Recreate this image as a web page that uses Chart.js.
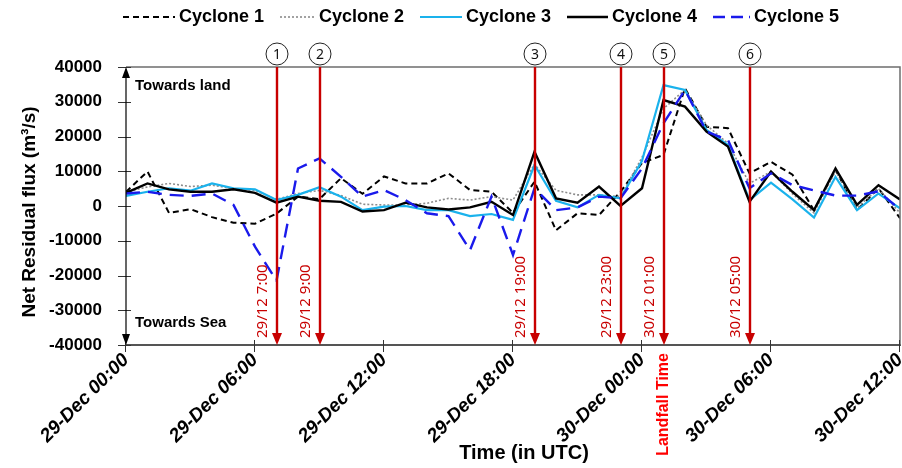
<!DOCTYPE html>
<html>
<head>
<meta charset="utf-8">
<script src="https://cdn.jsdelivr.net/npm/chart.js@4/dist/chart.umd.min.js"></script>
<style>
  html, body { margin: 0; padding: 0; background: #fff; }
  #wrap { width: 902px; height: 468px; }
</style>
</head>
<body>
<div id="wrap"><canvas id="cv" width="902" height="468"></canvas></div>
<script>
// hourly samples, 29-Dec 00:00 to 30-Dec 12:00 (UTC)
const hours = [0, 1, 2, 3, 4, 5, 6, 7, 8, 9, 10, 11, 12, 13, 14, 15, 16, 17, 18,
  19, 20, 21, 22, 23, 24, 25, 26, 27, 28, 29, 30, 31, 32, 33, 34, 35, 36];
const tickLabels = ['29-Dec 00:00', '29-Dec 06:00', '29-Dec 12:00', '29-Dec 18:00',
  '30-Dec 00:00', '30-Dec 06:00', '30-Dec 12:00'];

const cyclone1 = [4100, 9900, -2000, -900, -3200, -4800, -5100, -2200, 2700, 2000, 8000, 3500,
  8500, 6500, 6500, 9400, 4600, 4100, -2000, 7000, -7000, -2100, -2600, 4100,
  12400, 14700, 33900, 22800, 22400, 9400, 12700, 9000, -1200, 10400, -1200, 5100, -3500];
const cyclone2 = [4000, 5500, 6500, 5600, 6000, 5000, 4500, 1900, 3600, 4500, 3000, 500,
  300, 300, 800, 2200, 1700, 2700, 1700, 12000, 4500, 3200, 3200, 2700,
  14000, 28000, 33500, 23300, 18000, 6500, 9900, 3500, -2000, 10000, -500, 5000, -2000];
const cyclone3 = [2900, 4100, 5100, 4400, 6500, 5100, 4800, 1700, 3200, 5400, 2700, -1200,
  -200, 0, -1200, -1200, -2900, -2300, -4000, 11800, 1500, -400, 3200, 2200,
  13000, 34800, 33400, 21900, 17600, 1700, 6700, 1900, -3300, 8400, -1200, 3600, -700];
const cyclone4 = [3800, 6500, 4800, 4100, 4100, 4800, 3800, 950, 2700, 1500, 1200, -1600,
  -1200, 950, -400, -1000, -400, 1200, -2600, 15600, 2200, 950, 5600, 0,
  5100, 30500, 28600, 21400, 17100, 1200, 9900, 4100, -1200, 10800, 300, 6000, 1900];
const cyclone5 = [3600, 4100, 3200, 2900, 3600, 300, -11700, -21500, 10800, 13700, 8400, 2700,
  4600, 1700, -2100, -2900, -12700, 2700, -14100, 5100, -1200, -400, 2700, 2200,
  10800, 23800, 33400, 21400, 19000, 5100, 9400, 6000, 4500, 3000, 3000, 4200, -1000];

// marked events (hour offset from 29-Dec 00:00)
const eventHours = [7, 9, 19, 23, 25, 29];
const eventLabels = ['29/12 7:00', '29/12 9:00', '29/12 19:00', '29/12 23:00', '30/12 01:00', '30/12 05:00'];
const landfallHour = 25;

const seriesNames = ['Cyclone 1', 'Cyclone 2', 'Cyclone 3', 'Cyclone 4', 'Cyclone 5'];
const seriesData = [cyclone1, cyclone2, cyclone3, cyclone4, cyclone5];
const seriesStyle = [
  { color: '#000000', width: 2, dash: [6, 4] },
  { color: '#8c8c8c', width: 1.6, dash: [2, 2] },
  { color: '#1ab2ec', width: 2.2, dash: [] },
  { color: '#000000', width: 2.4, dash: [] },
  { color: '#1a1aeb', width: 2.4, dash: [14, 8] }
];

const RED = '#c80000';
const FONT = '"Liberation Sans", Arial, sans-serif';

const datasets = seriesData.map((vals, i) => ({
  label: seriesNames[i],
  data: vals.map((v, k) => ({ x: hours[k], y: v })),
  borderColor: seriesStyle[i].color,
  borderWidth: seriesStyle[i].width,
  borderDash: seriesStyle[i].dash,
  pointRadius: 0,
  tension: 0,
  fill: false,
  order: 5 - i
}));

function arrowHead(ctx, x, y, dir, w, h) {
  ctx.beginPath();
  ctx.moveTo(x, y);
  ctx.lineTo(x - w, y - dir * h);
  ctx.lineTo(x + w, y - dir * h);
  ctx.closePath();
  ctx.fill();
}

const decorations = {
  id: 'decorations',
  afterDraw(chart) {
    const { ctx, chartArea: a, scales: { x, y } } = chart;
    ctx.save();

    // frame on top and right
    ctx.strokeStyle = '#6e6e6e';
    ctx.lineWidth = 1.5;
    ctx.beginPath();
    ctx.moveTo(a.left, a.top);
    ctx.lineTo(a.right, a.top);
    ctx.lineTo(a.right, a.bottom);
    ctx.stroke();

    // tick marks crossing the axes
    ctx.strokeStyle = '#333';
    ctx.lineWidth = 1;
    y.ticks.forEach(t => {
      const py = Math.round(y.getPixelForValue(t.value)) + 0.5;
      ctx.beginPath();
      ctx.moveTo(a.left - 8, py);
      ctx.lineTo(a.left + 5, py);
      ctx.stroke();
    });
    x.ticks.forEach(t => {
      const px = Math.round(x.getPixelForValue(t.value)) - 0.5;
      ctx.beginPath();
      ctx.moveTo(px, a.bottom - 5);
      ctx.lineTo(px, a.bottom + 7);
      ctx.stroke();
    });

    // double arrow on the y axis
    ctx.strokeStyle = '#000';
    ctx.fillStyle = '#000';
    ctx.lineWidth = 1.2;
    ctx.beginPath();
    ctx.moveTo(a.left, a.top + 4);
    ctx.lineTo(a.left, a.bottom - 4);
    ctx.stroke();
    arrowHead(ctx, a.left, a.top, -1, 4, 11);
    arrowHead(ctx, a.left, a.bottom, 1, 4, 11);

    ctx.font = 'bold 15px ' + FONT;
    ctx.textBaseline = 'middle';
    ctx.textAlign = 'left';
    ctx.fillText('Towards land', a.left + 9, 86);
    ctx.fillText('Towards Sea', a.left + 9, 323);

    // axis titles
    ctx.font = 'bold 20px ' + FONT;
    ctx.textAlign = 'center';
    ctx.fillText('Time (in UTC)', 524, 453);
    ctx.save();
    ctx.translate(30, 212);
    ctx.rotate(-Math.PI / 2);
    ctx.font = 'bold 19px ' + FONT;
    ctx.fillText('Net Residual flux (m³/s)', 0, 0);
    ctx.restore();

    // event lines with circled numbers and time labels
    eventHours.forEach((h, i) => {
      const px = Math.round(x.getPixelForValue(h));
      ctx.strokeStyle = RED;
      ctx.fillStyle = RED;
      ctx.lineWidth = 2.4;
      ctx.beginPath();
      ctx.moveTo(px, a.top);
      ctx.lineTo(px, a.bottom - 10);
      ctx.stroke();
      arrowHead(ctx, px, a.bottom, 1, 5, 12);

      ctx.save();
      ctx.translate(px - 14, a.bottom - 7);
      ctx.rotate(-Math.PI / 2);
      ctx.font = '15px "Noto Sans", sans-serif';
      ctx.textAlign = 'left';
      ctx.textBaseline = 'middle';
      ctx.fillText(eventLabels[i], 0, 0);
      ctx.restore();

      ctx.beginPath();
      ctx.arc(px, a.top - 13, 11, 0, Math.PI * 2);
      ctx.fillStyle = '#fff';
      ctx.fill();
      ctx.strokeStyle = '#222';
      ctx.lineWidth = 1;
      ctx.stroke();
      ctx.fillStyle = '#111';
      ctx.font = '14px "Noto Sans", sans-serif';
      ctx.textAlign = 'center';
      ctx.fillText(String(i + 1), px, a.top - 12);
    });

    // landfall marker under the axis
    ctx.save();
    ctx.translate(x.getPixelForValue(landfallHour), a.bottom + 8);
    ctx.rotate(-Math.PI / 2);
    ctx.fillStyle = '#ff0000';
    ctx.font = 'bold 16px ' + FONT;
    ctx.textAlign = 'right';
    ctx.textBaseline = 'middle';
    ctx.fillText('Landfall Time', 0, 0);
    ctx.restore();

    // legend row
    const legendLine = [[123, 175], [280, 315], [420, 462], [567, 608], [713, 750]];
    ctx.textAlign = 'left';
    ctx.textBaseline = 'middle';
    ctx.font = 'bold 18px ' + FONT;
    seriesNames.forEach((name, i) => {
      const st = seriesStyle[i];
      const [x0, x1] = legendLine[i];
      ctx.strokeStyle = st.color;
      ctx.lineWidth = st.width;
      ctx.setLineDash(i === 4 ? [12, 6] : st.dash);
      ctx.beginPath();
      ctx.moveTo(x0, 17);
      ctx.lineTo(x1, 17);
      ctx.stroke();
      ctx.setLineDash([]);
      ctx.fillStyle = '#000';
      ctx.fillText(name, x1 + 4, 17);
    });

    ctx.restore();
  }
};

new Chart(document.getElementById('cv'), {
  type: 'line',
  data: { datasets },
  options: {
    responsive: false,
    animation: false,
    layout: { padding: { top: 67, left: 0, right: 2, bottom: 0 } },
    plugins: {
      legend: { display: false },
      tooltip: { enabled: false }
    },
    scales: {
      x: {
        type: 'linear',
        min: 0,
        max: 36,
        grid: { display: false, drawTicks: false },
        border: { display: true, color: '#555', width: 2 },
        ticks: {
          stepSize: 6,
          autoSkip: false,
          minRotation: 45,
          maxRotation: 45,
          padding: 4,
          color: '#000',
          font: { family: FONT, size: 19, weight: 'bold', style: 'italic' },
          callback: v => tickLabels[v / 6]
        },
        afterFit: s => { s.height = 123; s.paddingLeft = 0; s.paddingRight = 0; }
      },
      y: {
        min: -40000,
        max: 40000,
        grid: { display: false },
        border: { display: false },
        ticks: {
          stepSize: 10000,
          padding: 16,
          color: '#000',
          font: { family: FONT, size: 17, weight: 'bold' },
          callback: v => String(v)
        },
        afterFit: s => { s.width = 126; }
      }
    }
  },
  plugins: [decorations]
});
</script>
</body>
</html>
